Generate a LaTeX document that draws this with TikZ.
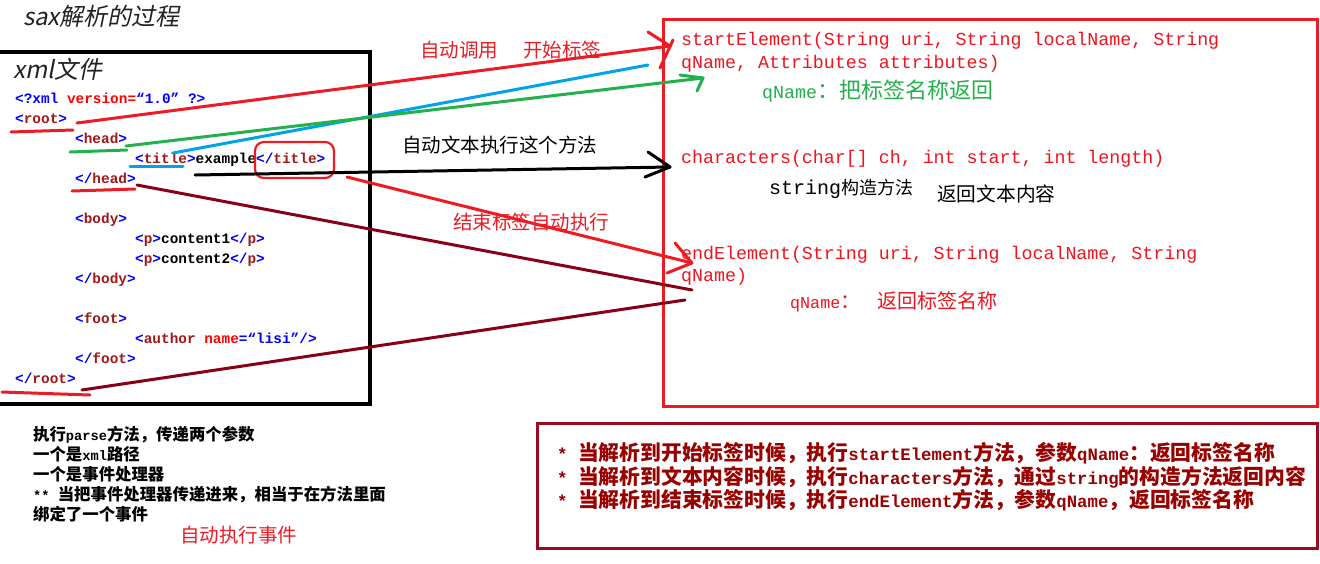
\documentclass[tikz,border=0pt]{standalone}
\usepackage{fontspec}
\newfontfamily\cjk{Noto Sans CJK SC}
\newfontfamily\cjkslant[FakeSlant=0.2]{Noto Sans CJK SC}
\newfontfamily\mono{Liberation Mono}
\newfontfamily\monoh[Scale=0.8333]{Liberation Mono}
\definecolor{pred}{HTML}{ED1C24}
\definecolor{pgreen}{HTML}{22B14C}
\definecolor{pcyan}{HTML}{00A2E8}
\definecolor{pdred}{HTML}{880015}
\definecolor{cblue}{HTML}{0000FF}
\definecolor{ctag}{HTML}{A01818}
\definecolor{cattr}{HTML}{FF0000}
\definecolor{mred}{HTML}{F0141E}
\definecolor{bred}{HTML}{990000}
\definecolor{bbox}{HTML}{9B0A1E}
\definecolor{ttl}{HTML}{222222}
\newcommand\xopen[1]{\textcolor{cblue}{<}\textcolor{ctag}{#1}\textcolor{cblue}{>}}
\newcommand\xclose[1]{\textcolor{cblue}{</}\textcolor{ctag}{#1}\textcolor{cblue}{>}}
\tikzset{
  codeL/.style={anchor=base west, inner sep=0pt, font=\mono\bfseries\fontsize{14.4}{14.4}\selectfont},
  codeR/.style={anchor=base west, inner sep=0pt, text=mred, font=\mono\fontsize{18.3}{18.3}\selectfont},
  lab/.style={anchor=base west, inner sep=0pt, font=\cjk\fontsize{19.5}{19.5}\selectfont},
  note/.style={anchor=base west, inner sep=0pt, font=\cjk\bfseries\fontsize{16.4}{16.4}\selectfont},
  sumline/.style={anchor=base west, inner sep=0pt, text=bred, font=\cjk\bfseries\fontsize{20.8}{20.8}\selectfont},
  ttlstyle/.style={anchor=base west, inner sep=0pt, text=ttl},
  stroke/.style={line width=3pt, line cap=round, line join=round}
}
\begin{document}
\begin{tikzpicture}[x=1pt,y=-1pt]
\useasboundingbox (0,0) rectangle (1320,563);
\fill[white] (0,0) rectangle (1320,563);

% titles
\node[ttlstyle, font=\cjkslant\fontsize{24}{24}\selectfont] (title0) at (23,25) {sax解析的过程};
\node[ttlstyle, font=\cjkslant\fontsize{24}{24}\selectfont] (xmlf) at (13,78) {xml文件};

% boxes
\draw[line width=3.5pt] (-5,52) rectangle (370,404);
\draw[pred, line width=3pt] (663,19) rectangle (1317,406);
\draw[bbox, line width=3pt] (537,423) rectangle (1317,548);

% xml code
\node[codeL] (decl) at (15,103) {\textcolor{cblue}{<?xml} \textcolor{cattr}{version=}\textcolor{cblue}{“1.0” ?>}};
\node[codeL] (root) at (15,123) {\xopen{root}};
\node[codeL] (head) at (75,143) {\xopen{head}};
\node[codeL] (title) at (135,163) {\xopen{title}example\xclose{title}};
\node[codeL] (headc) at (75,183) {\xclose{head}};
\node[codeL] (body) at (75,223) {\xopen{body}};
\node[codeL] (p1) at (135,243) {\xopen{p}content1\xclose{p}};
\node[codeL] (p2) at (135,263) {\xopen{p}content2\xclose{p}};
\node[codeL] (bodyc) at (75,283) {\xclose{body}};
\node[codeL] (foot) at (75,323) {\xopen{foot}};
\node[codeL] (author) at (135,343) {\textcolor{cblue}{<}\textcolor{ctag}{author} \textcolor{cattr}{name}\textcolor{cblue}{=“lisi”/>}};
\node[codeL] (footc) at (75,363) {\xclose{foot}};
\node[codeL] (rootc) at (15,383) {\xclose{root}};

% methods
\node[codeR] (se1) at (681,45.5) {startElement(String uri, String localName, String};
\node[codeR] (se2) at (681,68.5) {qName, Attributes attributes)};
\node[anchor=base west, inner sep=0pt, text=pgreen, font=\cjk\fontsize{22}{22}\selectfont] (qn1) at (762,98) {{\mono\fontsize{18.3}{18.3}\selectfont qName}：把标签名称返回};
\node[codeR] (chars) at (681,163.5) {characters(char[] ch, int start, int length)};
\node[anchor=base west, inner sep=0pt, font=\cjk\fontsize{18}{18}\selectfont] (strc) at (769,194) {{\mono\fontsize{20}{20}\selectfont string}构造方法};
\node[anchor=base west, inner sep=0pt, font=\cjk\fontsize{19.7}{19.7}\selectfont] (ret) at (937,201) {返回文本内容};
\node[codeR] (ee1) at (681,259.5) {endElement(String uri, String localName, String};
\node[codeR] (ee2) at (681,281.5) {qName)};
\node[anchor=base west, inner sep=0pt, text=mred, font=\cjk\fontsize{20}{20}\selectfont] (qn2) at (790,308) {{\mono\fontsize{16.7}{16.7}\selectfont qName}：\hspace{17pt}返回标签名称};

% labels
\node[lab, text=pred] (lab1) at (420,57) {自动调用\hspace{25pt}开始标签};
\node[lab] (lab2) at (402,152) {自动文本执行这个方法};
\node[lab, text=pred] (lab3) at (453,229) {结束标签自动执行};

% notes
\node[note] (n1) at (33,440.5) {执行{\monoh parse}方法，传递两个参数};
\node[note] (n2) at (33,460.5) {一个是{\monoh xml}路径};
\node[note] (n3) at (33,480.5) {一个是事件处理器};
\node[note] (n4) at (33,500.5) {{\monoh ** }当把事件处理器传递进来，相当于在方法里面};
\node[note] (n5) at (33,520.5) {绑定了一个事件};
\node[lab, text=pred] (auto) at (180,542) {自动执行事件};

% summary
\node[sumline] (b1) at (557,460.5) {{\monoh * }当解析到开始标签时候，执行{\monoh startElement}方法，参数{\monoh qName}：返回标签名称};
\node[sumline] (b2) at (557,484.5) {{\monoh * }当解析到文本内容时候，执行{\monoh characters}方法，通过{\monoh string}的构造方法返回内容};
\node[sumline] (b3) at (557,507.5) {{\monoh * }当解析到结束标签时候，执行{\monoh endElement}方法，参数{\monoh qName}，返回标签名称};

% coordinates
\coordinate (rootS) at (77,123);
\coordinate (seTip) at (670,46);
\coordinate (headS) at (126,146);
\coordinate (gTip) at (703,78);
\coordinate (titleS) at (173,153);
\coordinate (cyanEnd) at (648,65);
\coordinate (textS) at (195,175);
\coordinate (cTip) at (670,167);
\coordinate (ctitleS) at (347,177);
\coordinate (eTip) at (692,263);
\coordinate (headcS) at (137,185);
\coordinate (hcEnd) at (692,290);
\coordinate (rootcS) at (82,390);
\coordinate (rcEnd) at (685,300);

% underlines
\draw[pred, stroke] (11,132) -- (73,130);
\draw[pgreen, stroke] (70,152) -- (127,150);
\draw[pcyan, stroke] (130,166) -- (183,166);
\draw[pred, stroke] (72,191) -- (135,189);
\draw[pred, stroke] (2,392) -- (90,395);
\draw[pred, line width=2.2pt, rounded corners=9pt] (255,142) rectangle (334,178);

% connectors
\draw[pred, stroke] (rootS) -- (seTip);
\draw[pred, stroke] (648,32) -- (seTip);
\draw[pred, stroke] (673,40) -- (660,68);
\draw[pcyan, stroke] (titleS) -- (cyanEnd);
\draw[pgreen, stroke] (headS) -- (gTip);
\draw[pgreen, stroke] (680,75) -- (gTip) -- (697,91);
\draw[black, stroke] (textS) -- (cTip);
\draw[black, stroke] (648,152) -- (cTip) -- (645,177);
\draw[pred, stroke] (ctitleS) -- (eTip);
\draw[pred, stroke] (675,243) -- (eTip) -- (667,273);
\draw[pdred, stroke] (headcS) -- (hcEnd);
\draw[pdred, stroke] (rootcS) -- (rcEnd);
\end{tikzpicture}
\end{document}
